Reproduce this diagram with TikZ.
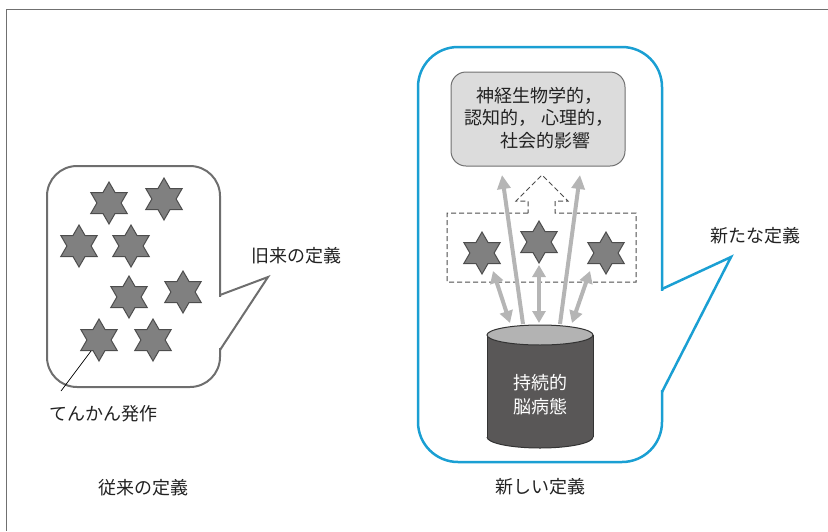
\documentclass[tikz,border=0pt]{standalone}
\usepackage{fontspec}
\setmainfont{Noto Sans CJK JP}
\usetikzlibrary{shapes.geometric,arrows.meta}
\definecolor{framec}{HTML}{707070}
\definecolor{bubgray}{HTML}{6E6E6E}
\definecolor{blueb}{HTML}{1A9FD3}
\definecolor{starfill}{HTML}{808080}
\definecolor{starline}{HTML}{4D4D4D}
\definecolor{boxfill}{HTML}{DCDCDC}
\definecolor{arrgray}{HTML}{B5B5B5}
\definecolor{cyldark}{HTML}{595757}
\definecolor{cyltop}{HTML}{B3B3B3}
\definecolor{txt}{HTML}{222222}
\begin{document}
\begin{tikzpicture}[x=1pt,y=-1pt,
  hexstar/.style={star, star points=6, star point ratio=1.732, minimum size=42pt,
    inner sep=0pt, outer sep=0pt, fill=starfill, draw=starline, line width=1pt},
  lbl/.style={font=\fontsize{18}{22}\selectfont, text=txt, inner sep=0pt},
  dblarrow/.style={draw=arrgray, line width=4pt,
    {Triangle[width=13pt,length=12pt]}-{Triangle[width=13pt,length=12pt]}},
  uparrow/.style={draw=arrgray, line width=4pt, -{Triangle[width=13pt,length=14pt]}},
  dashline/.style={draw=starline, line width=1pt, dash pattern=on 5pt off 3pt}
]
\useasboundingbox (0,0) rectangle (828,531);
% frame
\draw[framec, line width=1.5pt] (828,9.5) -- (6.5,9.5) -- (6.5,531);

% ---------- left bubble ----------
\draw[bubgray, line width=2pt, rounded corners=30pt] (47,166) rectangle (220,387);
\fill[white] (217,297) rectangle (223,348);
\draw[bubgray, line width=2pt, line join=miter] (220,295) -- (268,277) -- (220,350);

\node[hexstar] (s1) at (109,203) {};
\node[hexstar] (s2) at (164,199) {};
\node[hexstar] (s3) at (79,246) {};
\node[hexstar] (s4) at (131,246) {};
\node[hexstar] (s5) at (129,297) {};
\node[hexstar] (s6) at (183,292) {};
\node[hexstar] (s7) at (99,340) {};
\node[hexstar] (s8) at (153,340) {};

\coordinate (ptr) at (61,391);
\coordinate (ptrend) at (91,351);
\draw[black, line width=0.7pt] (ptr) -- (ptrend);

\node[lbl] (oldlbl) at (296,256) {旧来の定義};
\node[lbl] (seizure) at (103,414) {てんかん発作};
\node[lbl] (convlbl) at (143,488) {従来の定義};

% ---------- right bubble ----------
\draw[blueb, line width=2.5pt, rounded corners=40pt] (418,47) rectangle (662,462);
\fill[white] (658,291) rectangle (666,390);
\draw[blueb, line width=2.5pt, line join=miter] (662,289) -- (731,257) -- (662,392);

\node[lbl] (newdef) at (755,236) {新たな定義};
\node[lbl] (newlbl) at (540,487) {新しい定義};

% gray box
\node[draw=framec, line width=1pt, fill=boxfill, rounded corners=15pt,
      minimum width=174pt, minimum height=94pt] (box) at (538,119) {};
\node[lbl, align=center, font=\fontsize{18}{22.5}\selectfont] (boxtxt) at (539,118)
  {神経生物学的，\\認知的，\ 心理的，\\\hspace*{12pt}社会的影響};

% dashed group with hollow arrow
\draw[dashline] (528,213) -- (447,213) -- (447,282) -- (636,282) -- (636,213) -- (555,213)
  -- (555,201) -- (568,201) -- (542,175) -- (516,201) -- (528,201) -- cycle;

\node[hexstar] (sL) at (482,253) {};
\node[hexstar] (sM) at (539,242) {};
\node[hexstar] (sR) at (606,253) {};

% cylinder
\fill[cyldark] (487,335) rectangle (593,437);
\fill[cyldark] (540,437) ellipse [x radius=53, y radius=11];
\draw[black!80, line width=1pt] (487,335) -- (487,437);
\draw[black!80, line width=1pt] (593,335) -- (593,437);
\begin{scope}
  \clip (480,437) rectangle (600,455);
  \draw[black!80, line width=1pt] (540,437) ellipse [x radius=53, y radius=11];
\end{scope}
\draw[black!80, line width=1pt, fill=cyltop] (540,335) ellipse [x radius=53, y radius=10];
\node[lbl, text=white, align=center, font=\fontsize{18}{24}\selectfont] (cyl) at (540,395) {持続的\\脳病態};

% arrows
\coordinate (c1) at (523,324);
\coordinate (c2) at (560,324);
\coordinate (b1) at (502,175);
\coordinate (b2) at (580,175);
\draw[uparrow] (c1) -- (b1);
\draw[uparrow] (c2) -- (b2);

\coordinate (d1a) at (493,271);
\coordinate (d1b) at (510,323);
\coordinate (d2a) at (539,265);
\coordinate (d2b) at (539,323);
\coordinate (d3a) at (590,271);
\coordinate (d3b) at (572,323);
\draw[dblarrow] (d1a) -- (d1b);
\draw[dblarrow] (d2a) -- (d2b);
\draw[dblarrow] (d3a) -- (d3b);
\end{tikzpicture}
\end{document}
